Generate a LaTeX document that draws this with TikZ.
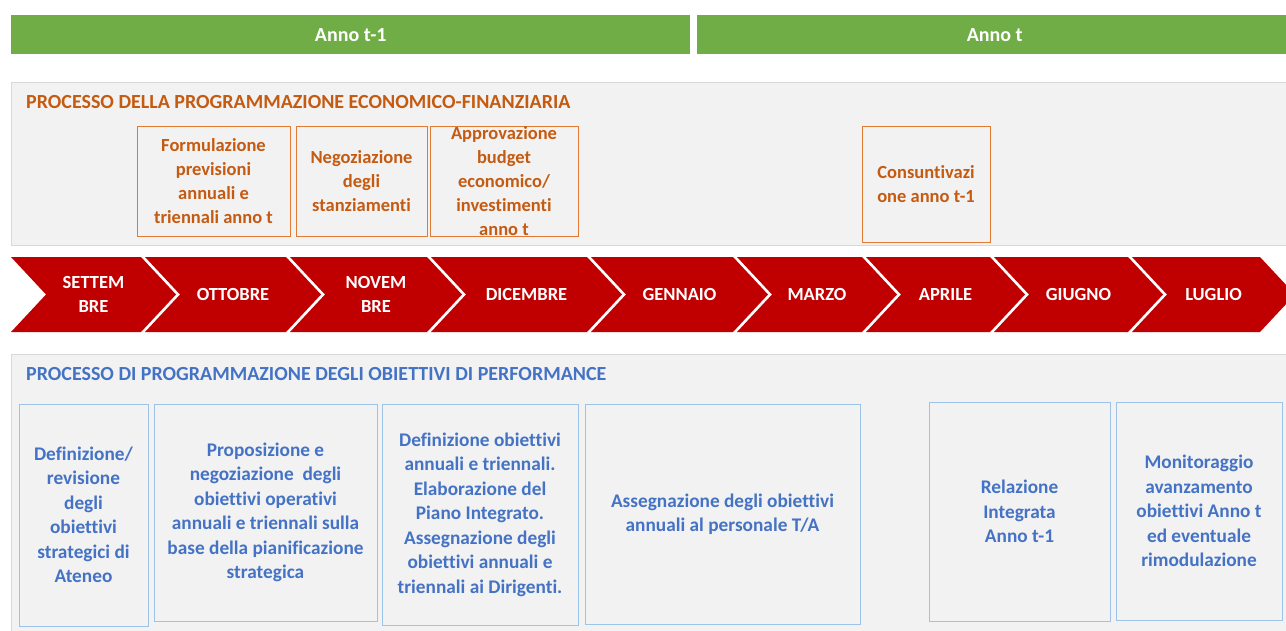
\documentclass[tikz,border=0pt]{standalone}
\usepackage{fontspec}
\setmainfont{Carlito}[Ligatures={NoCommon,NoRequired,NoContextual}]
\definecolor{annogreen}{HTML}{70AD47}
\definecolor{panelgray}{HTML}{F2F2F2}
\definecolor{panelline}{HTML}{D9D9D9}
\definecolor{ecotext}{HTML}{C55A11}
\definecolor{ecoline}{HTML}{E07A35}
\definecolor{perftext}{HTML}{4472C4}
\definecolor{perfline}{HTML}{9DC3E6}
\definecolor{monthred}{HTML}{C00000}

\tikzset{
  txt/.style={font=\fontsize{18.5}{24}\selectfont\bfseries},
  bigtxt/.style={font=\fontsize{20}{24}\selectfont\bfseries},
  yearbar/.style={fill=annogreen, text=white, bigtxt, inner sep=0pt, anchor=north west},
  panel/.style={fill=panelgray, draw=panelline, line width=1pt, inner sep=0pt, anchor=north west},
  title/.style={bigtxt, anchor=west, inner sep=0pt},
  box/.style={draw, rectangle, inner sep=0pt, align=center, txt, line width=1pt},
  ecobox/.style={box, draw=ecoline, text=ecotext},
  perfbox/.style={box, draw=perfline, text=perftext, font=\fontsize{19.3}{24.5}\selectfont\bfseries},
  monthlbl/.style={txt, text=white, align=center, inner sep=0pt}
}

\begin{document}
\begin{tikzpicture}[x=1pt, y=-1pt]
  \clip (0,0) rectangle (1286,630);
  \fill[white] (0,0) rectangle (1286,630);

  % anni
  \node[yearbar, minimum width=679pt, minimum height=39pt] (annoprec) at (11,15) {Anno t-1};
  \node[yearbar, minimum width=595pt, minimum height=39pt] (annocorr) at (697,15) {Anno t};

  % programmazione economico-finanziaria
  \node[panel, minimum width=1280pt, minimum height=163pt] (ecopanel) at (11,82) {};
  \node[title, text=ecotext] (ecotitle) at (26,102) {PROCESSO DELLA PROGRAMMAZIONE ECONOMICO-FINANZIARIA};
  \node[ecobox, minimum width=153pt, minimum height=110pt] (formul) at (213.5,181) {Formulazione\\previsioni\\annuali e\\triennali anno t};
  \node[ecobox, minimum width=131pt, minimum height=110pt] (negoz) at (361.5,181) {Negoziazione\\degli\\stanziamenti};
  \node[ecobox, minimum width=148pt, minimum height=110pt] (approv) at (504,181) {Approvazione\\budget\\economico/\\investimenti\\anno t};
  \node[ecobox, minimum width=128pt, minimum height=116pt] (consunt) at (926,184) {Consuntivazi\\one anno t-1};

  % mesi
  \foreach \a/\b/\m [count=\i] in {11/141/{SETTEM\\BRE}, 145/286/OTTOBRE, 290/427/{NOVEM\\BRE},
      431/587/DICEMBRE, 591/733/GENNAIO, 737/862/MARZO, 866/990/APRILE, 994/1128/GIUGNO, 1132/1260/LUGLIO}{
    \fill[monthred] (\a,257) -- (\b,257) -- (\b+35,294.5) -- (\b,332) -- (\a,332) -- (\a+35,294.5) -- cycle;
    \node[monthlbl] (mese\i) at ({(\a+\b)/2+17.5},294.5) {\m};
  }

  % programmazione obiettivi di performance
  \node[panel, minimum width=1280pt, minimum height=285pt] (perfpanel) at (11,354) {};
  \node[title, text=perftext] (perftitle) at (26,374) {PROCESSO DI PROGRAMMAZIONE DEGLI OBIETTIVI DI PERFORMANCE};
  \node[perfbox, minimum width=129pt, minimum height=222pt] (strateg) at (83.5,515) {Definizione/\\revisione\\degli\\obiettivi\\strategici di\\Ateneo};
  \node[perfbox, minimum width=223pt, minimum height=217pt] (operat) at (265.5,512.5) {Proposizione e\\negoziazione~ degli\\obiettivi operativi\\annuali e triennali sulla\\base della pianificazione\\strategica};
  \node[perfbox, minimum width=196pt, minimum height=221pt] (piano) at (480,514.5) {Definizione obiettivi\\annuali e triennali.\\Elaborazione del\\Piano Integrato.\\Assegnazione degli\\obiettivi annuali e\\triennali ai Dirigenti.};
  \node[perfbox, minimum width=275pt, minimum height=220pt] (personale) at (722.5,514) {Assegnazione degli obiettivi\\annuali al personale T/A};
  \node[perfbox, minimum width=181pt, minimum height=219pt] (relaz) at (1019.5,511.5) {Relazione\\Integrata\\Anno t-1};
  \node[perfbox, minimum width=166pt, minimum height=218pt] (monit) at (1199,511) {Monitoraggio\\avanzamento\\obiettivi Anno t\\ed eventuale\\rimodulazione};
\end{tikzpicture}
\end{document}
